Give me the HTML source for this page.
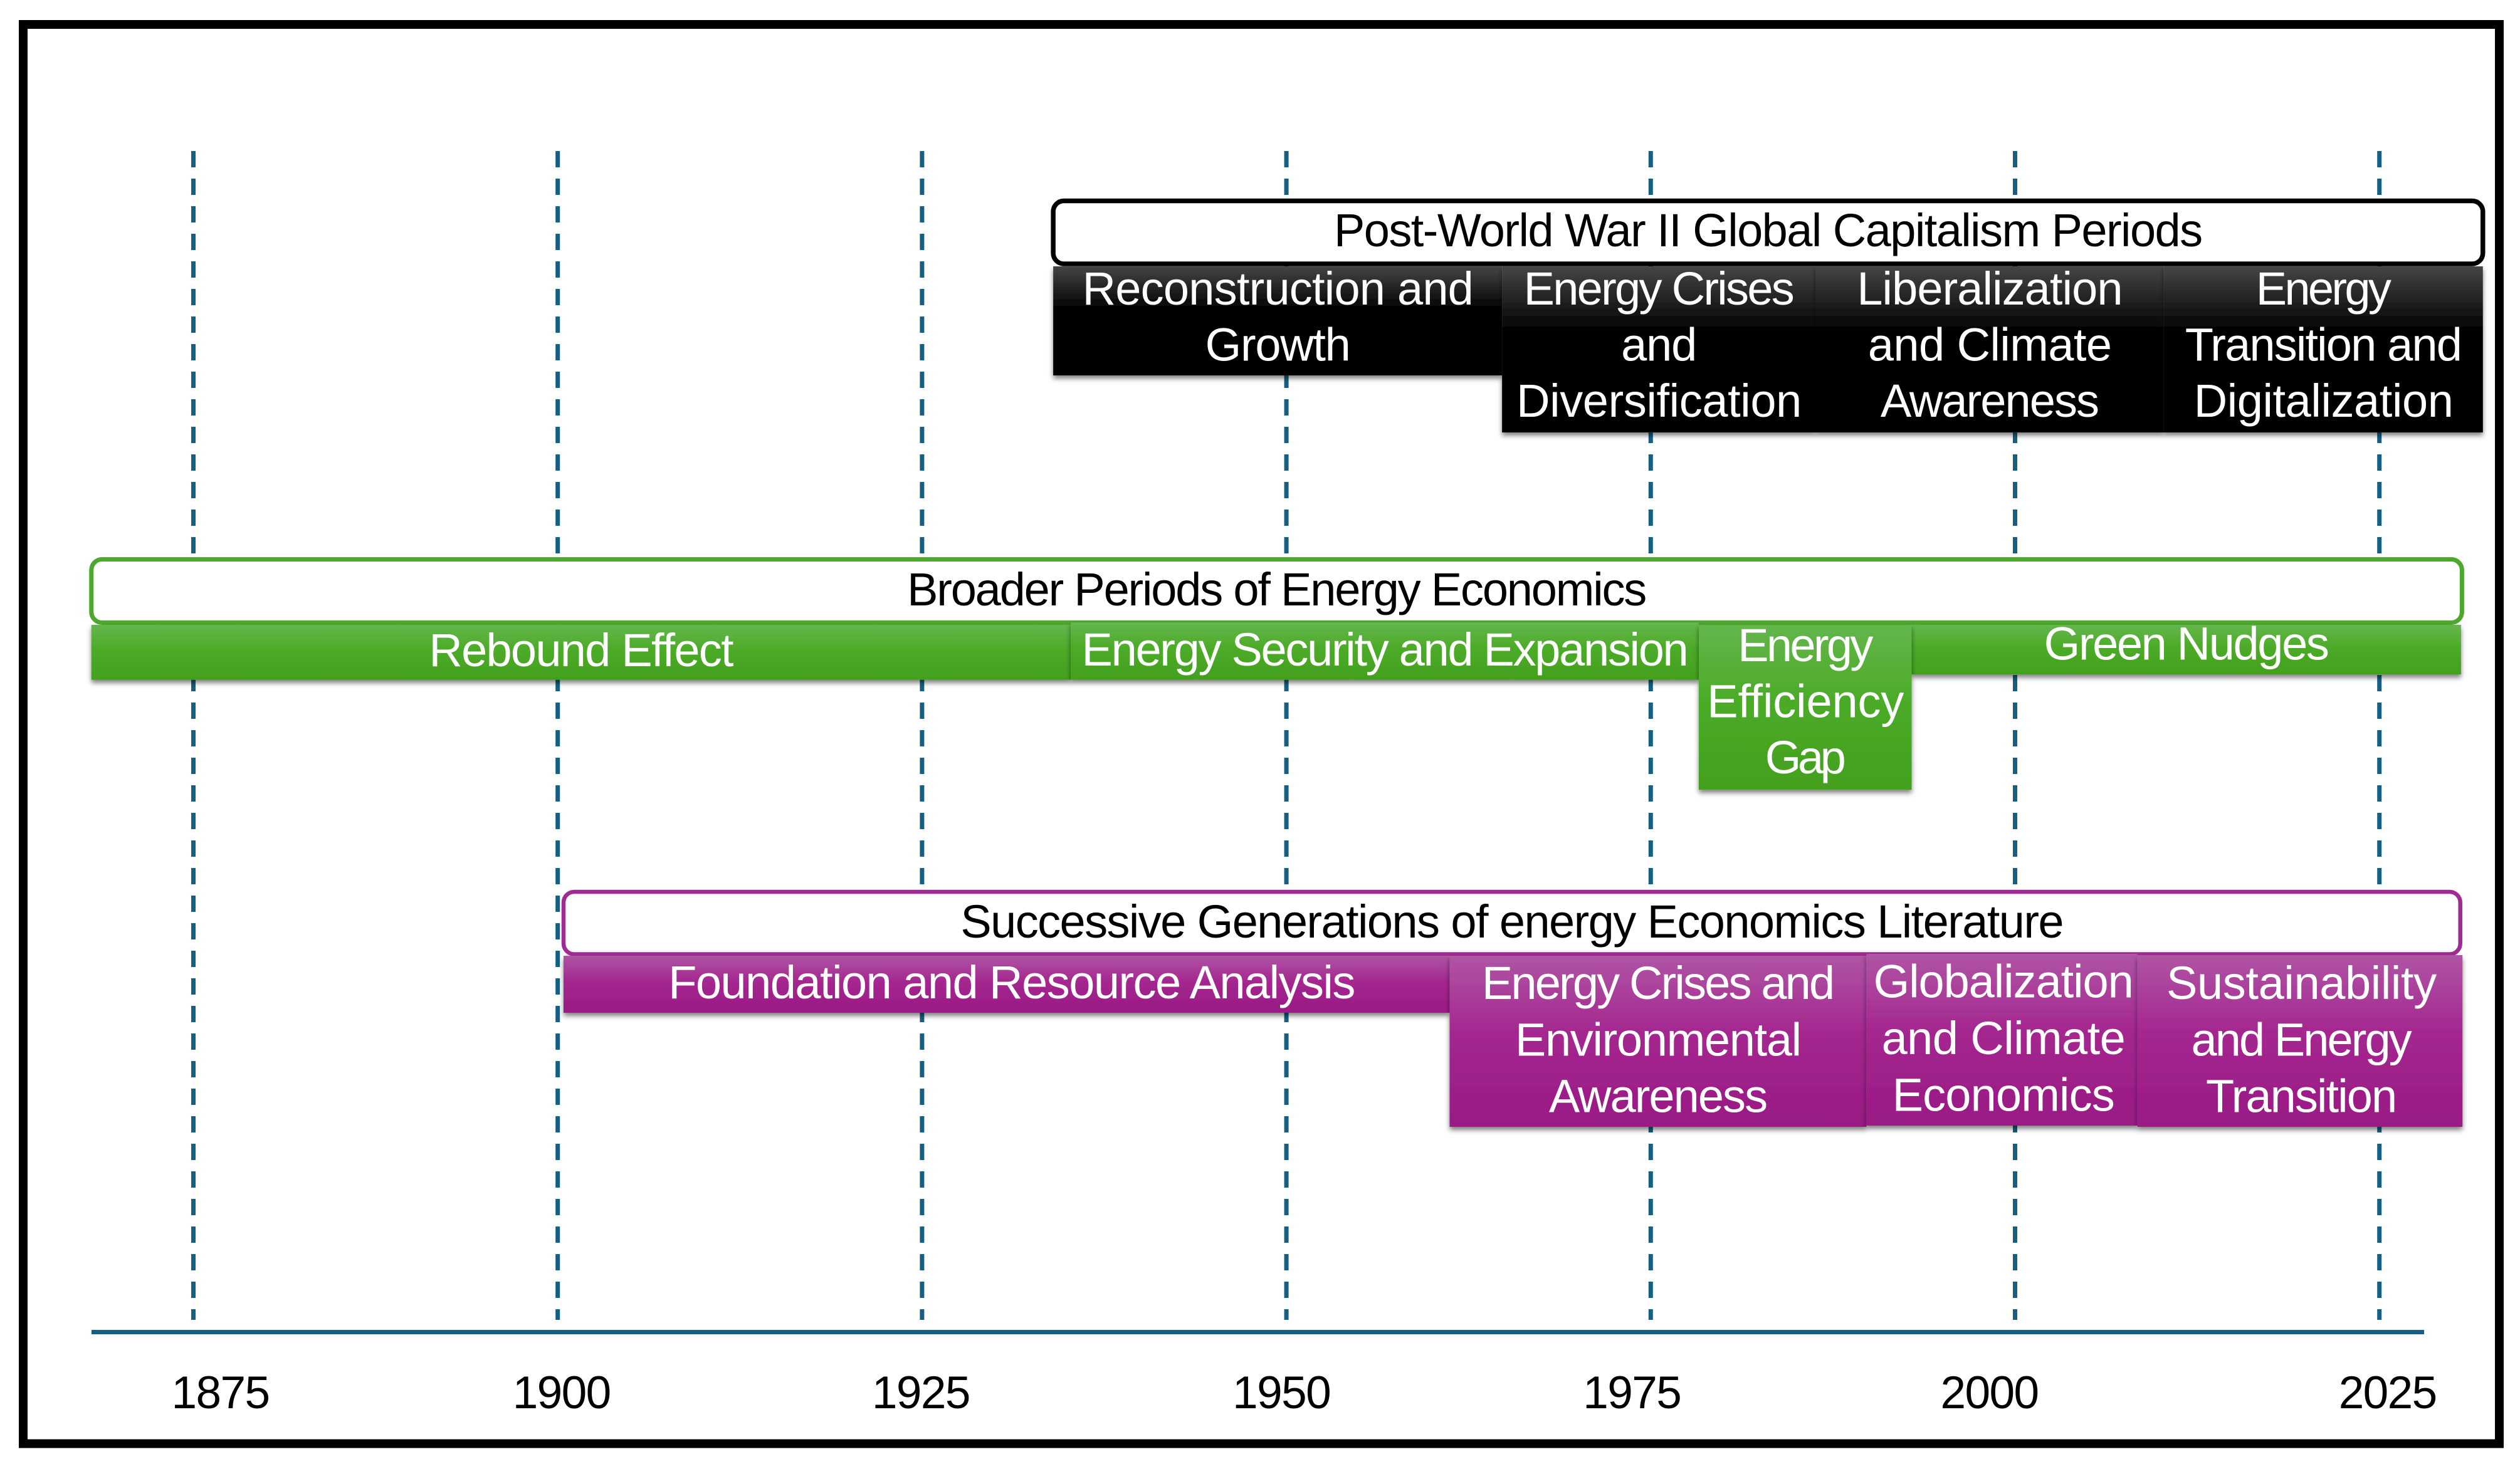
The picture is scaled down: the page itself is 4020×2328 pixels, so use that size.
<!DOCTYPE html>
<html lang="en">
<head>
<meta charset="utf-8">
<title>Timeline of Energy Economics Periods</title>
<style>
html,body{margin:0;padding:0;background:#fff;}
body{width:4020px;height:2328px;overflow:hidden;}
svg{display:block;}
text{font-family:"Liberation Sans",Arial,sans-serif;font-size:74px;letter-spacing:-1.2px;text-anchor:middle;}
#ticks text{font-size:73px;letter-spacing:-1.6px;}
</style>
</head>
<body>
<svg id="chart" xmlns="http://www.w3.org/2000/svg" width="4020" height="2328" viewBox="0 0 4020 2328">
  <defs>
    <linearGradient id="grad-black" x1="0" y1="0" x2="0" y2="1">
      <stop offset="0" stop-color="#454545"/><stop offset="0.4" stop-color="#000"/><stop offset="1" stop-color="#000"/>
    </linearGradient>
    <linearGradient id="grad-green" x1="0" y1="0" x2="0" y2="1">
      <stop offset="0" stop-color="#64b64c"/><stop offset="0.45" stop-color="#4cab28"/><stop offset="1" stop-color="#43a01e"/>
    </linearGradient>
    <linearGradient id="grad-purple" x1="0" y1="0" x2="0" y2="1">
      <stop offset="0" stop-color="#af55a4"/><stop offset="0.45" stop-color="#a4278f"/><stop offset="1" stop-color="#991a84"/>
    </linearGradient>
    <filter id="bar-shadow" x="-10%" y="-10%" width="120%" height="130%">
      <feDropShadow dx="0" dy="5" stdDeviation="4" flood-color="#000" flood-opacity="0.5"/>
    </filter>
  </defs>
  <rect x="37" y="39" width="3950" height="2264.5" fill="#fff" stroke="#000" stroke-width="14"/>
  <g id="grid"></g>
  <rect x="146" y="2122" width="3721" height="7" fill="#156082"/>
  <g id="ticks"></g>
  <g id="bands"></g>
</svg>
<script>
// Axis
const tickYears = [1875, 1900, 1925, 1950, 1975, 2000, 2025];
const tickLabels = ["1875", "1900", "1925", "1950", "1975", "2000", "2025"];

// Post-World War II Global Capitalism Periods
const capitalismTitle = "Post-World War II Global Capitalism Periods";
const capitalismStarts = [1934.0, 1964.8, 1986.3, 2010.2];
const capitalismEnds = [1964.8, 1986.3, 2010.2, 2032.1];
const capitalismLabels = [
  ["Reconstruction and", "Growth"],
  ["Energy Crises", "and", "Diversification"],
  ["Liberalization", "and Climate", "Awareness"],
  ["Energy", "Transition and", "Digitalization"]
];

// Broader Periods of Energy Economics
const broaderTitle = "Broader Periods of Energy Economics";
const broaderStarts = [1868.0, 1935.2, 1978.3, 1992.9];
const broaderEnds = [1935.2, 1978.3, 1992.9, 2030.6];
const broaderLabels = [
  ["Rebound Effect"],
  ["Energy Security and Expansion"],
  ["Energy", "Efficiency", "Gap"],
  ["Green Nudges"]
];

// Successive Generations of energy Economics Literature
const generationsTitle = "Successive Generations of energy Economics Literature";
const generationsStarts = [1900.4, 1961.2, 1989.8, 2008.4];
const generationsEnds = [1961.2, 1989.8, 2008.4, 2030.7];
const generationsLabels = [
  ["Foundation and Resource Analysis"],
  ["Energy Crises and", "Environmental", "Awareness"],
  ["Globalization", "and Climate", "Economics"],
  ["Sustainability", "and Energy", "Transition"]
];

const SVG_NS = "http://www.w3.org/2000/svg";
const xScale = year => 308.5 + (year - 1875) * 23.248;
const slug = s => s.toLowerCase().replace(/[^a-z0-9]+/g, "-").replace(/^-|-$/g, "");

// Typesetting: rendered run length of each line, to match the reference's tracking
const runLength = {
  "Post-World War II Global Capitalism Periods": 1385,
  "Reconstruction and": 623, "Growth": 231, "Energy Crises": 431, "and": 120,
  "Diversification": 454, "Liberalization": 423, "Awareness": 348, "Energy": 215,
  "Transition and": 441, "Digitalization": 413,
  "Broader Periods of Energy Economics": 1179,
  "Rebound Effect": 485, "Energy Security and Expansion": 967, "Efficiency": 313,
  "Gap": 128, "Green Nudges": 454,
  "Successive Generations of energy Economics Literature": 1759,
  "Foundation and Resource Analysis": 1095, "Energy Crises and": 562, "Environmental": 456,
  "Globalization": 414, "and Climate": 388, "Economics": 354, "Sustainability": 430,
  "and Energy": 351, "Transition": 304
};

function svgEl(tag, attrs, parent) {
  const el = document.createElementNS(SVG_NS, tag);
  for (const k in attrs) el.setAttribute(k, attrs[k]);
  parent.appendChild(el);
  return el;
}

function fitRun(el, str) {
  if (runLength[str]) {
    el.setAttribute("textLength", runLength[str]);
    el.setAttribute("lengthAdjust", "spacing");
  }
}

// Gridlines and tick labels
const gridGroup = document.getElementById("grid");
const tickGroup = document.getElementById("ticks");
const tickLabelNudge = year => ({1875: 43, 1900: 6, 1925: -2, 1950: -8, 1975: -30, 2000: -41, 2025: 13})[year] || 0;
tickYears.forEach((year, i) => {
  const line = svgEl("line", {x1: xScale(year), x2: xScale(year), y1: 241, y2: 2106, stroke: "#156082", "stroke-width": 7, "stroke-dasharray": "26 18"}, gridGroup);
  
  
  const label = svgEl("text", {x: xScale(year) + tickLabelNudge(year), y: 2247, fill: "#000"}, tickGroup);
  label.textContent = tickLabels[i];
  
  
});

// Bands
function drawBand(band) {
  const group = document.getElementById("bands");
  const left = xScale(band.starts[0]);
  const right = xScale(band.ends[band.ends.length - 1]) + band.headerRightAdjust;

  const order = band.starts.map((_, i) => i).sort((a, b) => band.labels[a].length - band.labels[b].length);

  const header = svgEl("rect", {x: left, y: band.headerTop, width: right - left, height: band.headerBottom - band.headerTop, rx: 17, ry: 17, fill: "#fff", stroke: band.stroke, "stroke-width": band.strokeWidth}, group);
  
  

  order.forEach(i => {
    const lines = band.labels[i];
    const name = slug(lines.join(" "));
    const tweak = band.tweaks[i] || {};
    const top = band.top + (tweak.top || 0);
    const bottom = band.top + lines.length * band.rowH + band.rowBase + (tweak.bottom || 0);
    const x0 = xScale(band.starts[i]);
    const x1 = xScale(band.ends[i]);
    const bar = svgEl("rect", {x: x0, y: top, width: x1 - x0, height: bottom - top, fill: "url(#" + band.gradient + ")", filter: "url(#bar-shadow)"}, group);
    
    
  });

  order.forEach(i => {
    const lines = band.labels[i];
    const name = slug(lines.join(" "));
    const tweak = band.tweaks[i] || {};
    const cx = (xScale(band.starts[i]) + xScale(band.ends[i])) / 2 + (tweak.textX || 0);
    lines.forEach((line, j) => {
      const t = svgEl("text", {x: cx, y: band.top + band.textOffset + (tweak.text || 0) + j * band.lineH, fill: "#fff"}, group);
      t.textContent = line;
      fitRun(t, line);
      
      
    });
  });

  const title = svgEl("text", {x: (left + right) / 2, y: band.titleY, fill: "#000"}, group);
  title.textContent = band.title;
  fitRun(title, band.title);
  
  
}

drawBand({
  title: capitalismTitle, starts: capitalismStarts, ends: capitalismEnds, labels: capitalismLabels,
  gradient: "grad-black", stroke: "#000", strokeWidth: 7.5, headerRightAdjust: 0,
  headerTop: 320.5, headerBottom: 421, titleY: 393,
  top: 425, rowH: 91, rowBase: -8, textOffset: 61, lineH: 89.5, tweaks: {}
});
drawBand({
  title: broaderTitle, starts: broaderStarts, ends: broaderEnds, labels: broaderLabels,
  gradient: "grad-green", stroke: "#4ea72e", strokeWidth: 7, headerRightAdjust: 1.5,
  headerTop: 892.5, headerBottom: 993.5, titleY: 966,
  top: 997, rowH: 87.7, rowBase: 0, textOffset: 58, lineH: 89.5,
  tweaks: {0: {text: 8}, 1: {text: 7, top: -4}, 3: {text: -2.5, bottom: -8.5}}
});
drawBand({
  title: generationsTitle, starts: generationsStarts, ends: generationsEnds, labels: generationsLabels,
  gradient: "grad-purple", stroke: "#a02b93", strokeWidth: 6.5, headerRightAdjust: -3.5,
  headerTop: 1423, headerBottom: 1522.5, titleY: 1496,
  top: 1525, rowH: 91, rowBase: 0, textOffset: 69, lineH: 90.3,
  tweaks: {0: {text: -1, textX: 8}, 2: {text: -2.3, top: -3, bottom: -2, textX: 2}, 3: {top: -1, textX: 2}}
});
</script>
</body>
</html>
